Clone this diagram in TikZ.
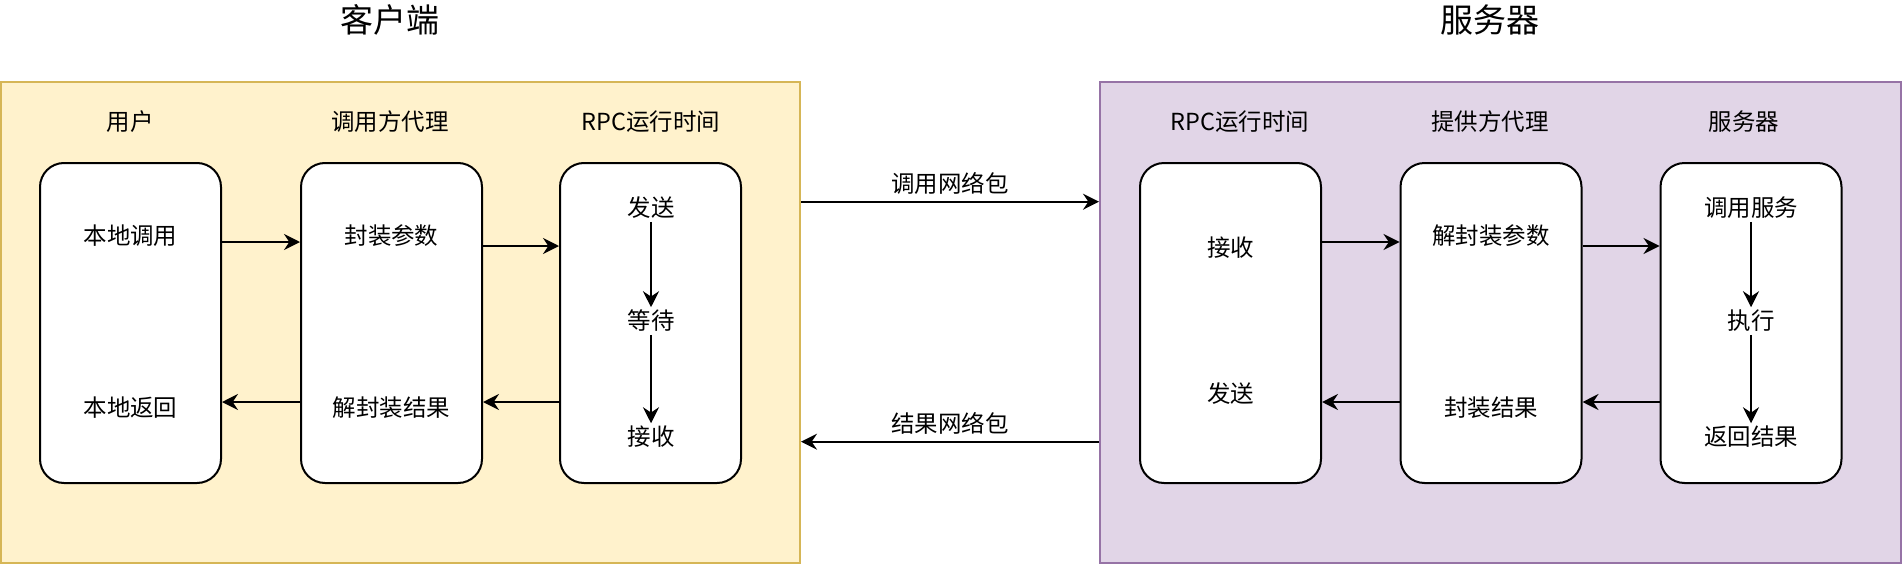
\documentclass[tikz,border=0pt]{standalone}
\usepackage{fontspec}
\setmainfont{Noto Sans CJK SC}
\usetikzlibrary{arrows.meta,calc}
\definecolor{clientfill}{HTML}{FFF2CC}
\definecolor{clientline}{HTML}{D6B656}
\definecolor{serverfill}{HTML}{E1D5E7}
\definecolor{serverline}{HTML}{9673A6}

\begin{document}
\begin{tikzpicture}[
  x=0.75pt,
  y=-0.75pt,
  font=\fontsize{17.6}{21}\selectfont,
  line/.style={draw=black,line width=1.5pt},
  arrow/.style={line,-{Stealth[length=12pt,width=12pt,inset=4pt]}},
  group/.style={line width=1.5pt,minimum height=360.75pt,inner sep=0pt},
  lane/.style={line,fill=white,rounded corners=18pt,minimum width=135.75pt,minimum height=240pt,inner sep=0pt},
  heading/.style={font=\fontsize{24.75}{28}\selectfont},
  label/.style={inner sep=2pt}
]
\useasboundingbox (0,0) rectangle (1902,564);

% Containers
\node[group,draw=clientline,fill=clientfill,minimum width=599.25pt] (client) at (400.5,322.5) {};
\node[group,draw=serverline,fill=serverfill,minimum width=600.75pt] (server) at (1500.5,322.5) {};

% Titles
\node[heading] (clienttitle) at (390,20) {客户端};
\node[heading] (servertitle) at (1490,20) {服务器};

% Column headings
\node (userhead) at (130,121.6) {用户};
\node (proxyhead) at (390,121.6) {调用方代理};
\node (rpcchead) at (651,121.6) {RPC运行时间};
\node (rpcshead) at (1240,121.6) {RPC运行时间};
\node (stubhead) at (1490,121.6) {提供方代理};
\node (svchead) at (1744,121.6) {服务器};

% Client lanes
\node[lane] (user) at (130.5,323) {};
\node[lane] (proxy) at (391.5,323) {};
\node[lane] (rpcc) at (650.5,323) {};

\node[label] (localcall) at (130.5,235.6) {本地调用};
\node[label] (localret) at (130.5,408) {本地返回};
\node[label] (pack) at (391.5,235.6) {封装参数};
\node[label] (unpackres) at (391.5,408) {解封装结果};
\node[label] (csend) at (651,208) {发送};
\node[label] (cwait) at (651,321) {等待};
\node[label] (crecv) at (651,437) {接收};

% Server lanes
\node[lane] (rpcs) at (1230.5,323) {};
\node[lane] (stub) at (1491,323) {};
\node[lane] (svc) at (1751,323) {};

\node[label] (srecv) at (1230.5,248) {接收};
\node[label] (ssend) at (1230.5,394) {发送};
\node[label] (unpack) at (1491,236) {解封装参数};
\node[label] (packres) at (1491,408) {封装结果};
\node[label] (callsvc) at (1751,208) {调用服务};
\node[label] (exec) at (1751,321) {执行};
\node[label] (retres) at (1751,437) {返回结果};

% Forward arrows
\coordinate (c1) at ($(user.north east)+(0,80)$);
\coordinate (c2) at ($(proxy.north east)+(0,84)$);
\coordinate (s1) at ($(rpcs.north east)+(0,80)$);
\coordinate (s2) at ($(stub.north east)+(0,84)$);
\draw[arrow] (c1) -- (c1 -| proxy.west);
\draw[arrow] (c2) -- (c2 -| rpcc.west);
\draw[arrow] (s1) -- (s1 -| stub.west);
\draw[arrow] (s2) -- (s2 -| svc.west);

% Return arrows
\coordinate (c3) at ($(rpcc.north west)+(0,240)$);
\coordinate (c4) at ($(proxy.north west)+(0,240)$);
\coordinate (s3) at ($(svc.north west)+(0,240)$);
\coordinate (s4) at ($(stub.north west)+(0,240)$);
\draw[arrow] (c3) -- (c3 -| proxy.east);
\draw[arrow] (c4) -- (c4 -| user.east);
\draw[arrow] (s3) -- (s3 -| stub.east);
\draw[arrow] (s4) -- (s4 -| rpcs.east);

% Steps inside runtime and service
\draw[arrow] (csend) -- (cwait);
\draw[arrow] (cwait) -- (crecv);
\draw[arrow] (callsvc) -- (exec);
\draw[arrow] (exec) -- (retres);

% Network packets
\coordinate (n1) at ($(client.north east)+(0,120.7)$);
\coordinate (n2) at ($(server.north west)+(0,360.7)$);
\draw[arrow] (n1) -- (n1 -| server.west) node[midway,above,inner sep=5pt] (callpkt) {调用网络包};
\draw[arrow] (n2) -- (n2 -| client.east) node[midway,above,inner sep=5pt] (respkt) {结果网络包};

\end{tikzpicture}
\end{document}
